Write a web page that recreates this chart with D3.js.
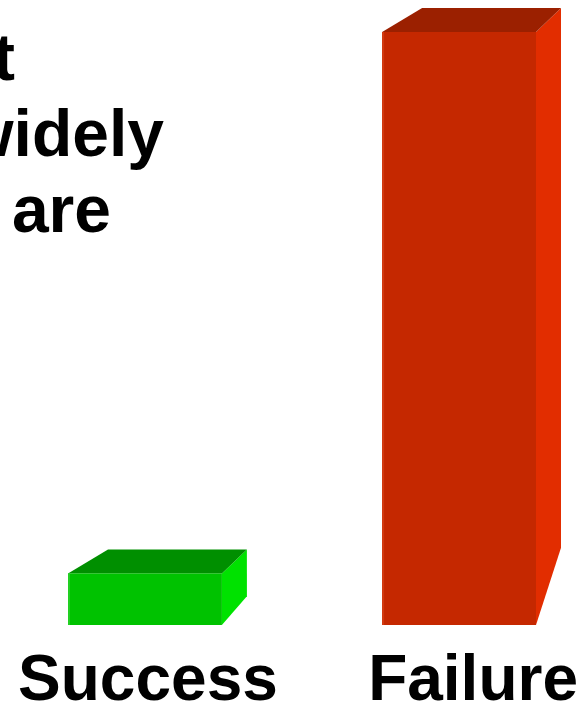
<!DOCTYPE html>
<html>
<head>
<meta charset="utf-8">
<script src="https://cdn.jsdelivr.net/npm/d3@7"></script>
<style>
  html, body { margin: 0; padding: 0; background: #fff; }
  svg { display: block; }
  text { font-family: "Liberation Sans", Arial, Helvetica, sans-serif; font-weight: bold; fill: #000; }
</style>
</head>
<body>
<svg id="chart"></svg>
<script>
const categories = ['Success', 'Failure']
const values = [8, 92]
const titleLines = ['t', 'widely', 'are']

const colors = {
    Success: { front: '#00c200', top: '#008f00', side: '#00e200', edge: '#22d022' },
    Failure: { front: '#c52800', top: '#9b2000', side: '#e22d00', edge: '#d23a10' }
}

const size = { width: 581, height: 708 }
const plot = { left: 68, right: 536, top: 32, bottom: 625 }
const depth = { dxLeft: 40, dxRight: 25, dy: 24 }

const svg = d3.select('#chart')
    .attr('width', size.width)
    .attr('height', size.height)

const x = d3.scaleBand()
    .domain(categories)
    .range([plot.left, plot.right])
    .paddingInner(0.51)
    .paddingOuter(0)

const y = d3.scaleLinear()
    .domain([0, d3.max(values)])
    .range([plot.bottom, plot.top])

const data = categories.map((c, i) => ({ cat: c, value: values[i] }))

// title fragment, cut off on the left side of the picture
svg.append('g')
    .attr('class', 'title')
    .selectAll('text')
    .data(titleLines)
    .enter()
        .append('text')
        .attr('text-anchor', 'end')
        .attr('x', (d, i) => [15, 164, 111][i])
        .attr('y', (d, i) => 80 + i * 76)
        .style('font-size', '66px')
        .text(d => d)

const bars = svg.append('g')
    .attr('class', 'bars')
    .selectAll('g')
    .data(data)
    .enter()
        .append('g')

// side face: back bottom corner rises with bar height (perspective)
bars.append('path')
    .attr('fill', d => colors[d.cat].side)
    .attr('d', d => {
        const x1 = x(d.cat) + x.bandwidth()
        const yt = y(d.value)
        const yb = y(0)
        const rise = depth.dy + 0.09 * (yb - yt)
        return `M${x1},${yt} L${x1 + depth.dxRight},${yt - depth.dy} L${x1 + depth.dxRight},${yb - rise} L${x1},${yb} Z`
    })

// top face
bars.append('path')
    .attr('fill', d => colors[d.cat].top)
    .attr('d', d => {
        const x0 = x(d.cat)
        const x1 = x0 + x.bandwidth()
        const yt = y(d.value)
        return `M${x0},${yt} L${x0 + depth.dxLeft},${yt - depth.dy} L${x1 + depth.dxRight},${yt - depth.dy} L${x1},${yt} Z`
    })

// front face
bars.append('rect')
    .attr('x', d => x(d.cat))
    .attr('y', d => y(d.value))
    .attr('width', x.bandwidth())
    .attr('height', d => y(0) - y(d.value))
    .attr('fill', d => colors[d.cat].front)

// light edge on the left of the front face
bars.append('rect')
    .attr('x', d => x(d.cat))
    .attr('y', d => y(d.value))
    .attr('width', 2)
    .attr('height', d => y(0) - y(d.value))
    .attr('fill', d => colors[d.cat].edge)

// category labels
svg.append('g')
    .attr('class', 'labels')
    .selectAll('text')
    .data(data)
    .enter()
        .append('text')
        .attr('text-anchor', 'middle')
        .attr('x', d => x(d.cat) + x.bandwidth() / 2 + (d.cat === 'Success' ? 3 : 14))
        .attr('y', 700)
        .style('font-size', '64px')
        .text(d => d.cat)
</script>
</body>
</html>
